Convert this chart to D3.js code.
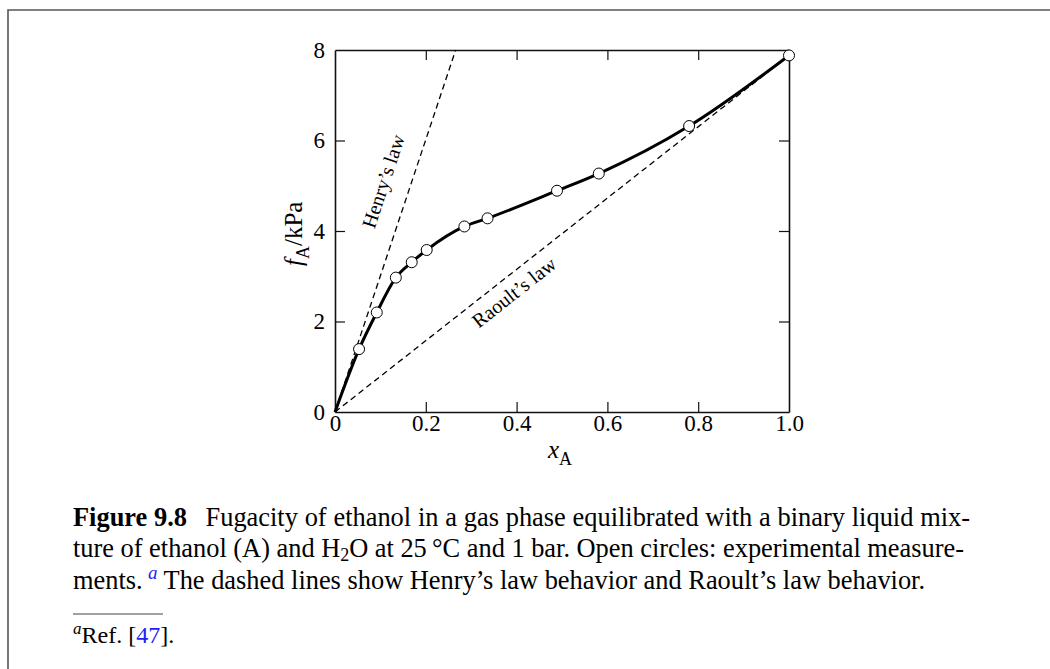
<!DOCTYPE html>
<html>
<head>
<meta charset="utf-8">
<script src="https://cdn.jsdelivr.net/npm/d3@7"></script>
<style>
  html, body { margin: 0; padding: 0; background: #fff; }
  svg { display: block; }
  text { font-family: "Liberation Serif", "Times New Roman", serif; fill: #000; }
</style>
</head>
<body>
<svg id="chart" width="1050" height="669"></svg>
<script>
// ---- data ----
const xA = [0.053, 0.092, 0.134, 0.169, 0.202, 0.285, 0.336, 0.489, 0.581, 0.780, 1.0];
const fA = [1.39, 2.20, 2.97, 3.31, 3.58, 4.10, 4.28, 4.89, 5.27, 6.32, 7.88];
const henryK = 30.1;      // kPa, Henry's law constant (slope)
const raoultP = 7.88;     // kPa, vapor pressure of pure ethanol
const xTicks = [0, 0.2, 0.4, 0.6, 0.8, 1.0];
const xTickLabels = ["0", "0.2", "0.4", "0.6", "0.8", "1.0"];
const yTicks = [0, 2, 4, 6, 8];
const yTickLabels = ["0", "2", "4", "6", "8"];
const henryLabelPos = [0.106, 5.1];
const raoultLabelPos = [0.394, 2.65];

const svg = d3.select("#chart");
const W = 1050, H = 669;

// page frame (top and left rules)
svg.append("path").attr("d", `M8,${H} L8,10 L${W},10`)
  .attr("fill", "none").attr("stroke", "#555").attr("stroke-width", 1.6);

const x = d3.scaleLinear().domain([0, 1]).range([335, 789]);
const y = d3.scaleLinear().domain([0, 8]).range([412, 50]);

const fmtX = d => xTickLabels[xTicks.indexOf(d)];
const fmtY = d => yTickLabels[yTicks.indexOf(d)];

function styleAxis(g) {
  g.selectAll("path.domain").attr("stroke", "#111").attr("stroke-width", 1.6);
  g.selectAll(".tick line").attr("stroke", "#111").attr("stroke-width", 1.2);
  g.selectAll("text").attr("font-family", '"Liberation Serif", "Times New Roman", serif')
    .attr("font-size", 23).attr("fill", "#000");
}

svg.append("g").attr("transform", `translate(0,${y(0)})`)
  .call(d3.axisBottom(x).tickValues(xTicks).tickSize(-10).tickSizeOuter(0).tickPadding(3).tickFormat(fmtX))
  .call(styleAxis);
svg.append("g").attr("transform", `translate(0,${y(8)})`)
  .call(d3.axisTop(x).tickValues(xTicks.slice(1, -1)).tickSize(-10).tickSizeOuter(0).tickFormat(""))
  .call(styleAxis);
svg.append("g").attr("transform", `translate(${x(0)},0)`)
  .call(d3.axisLeft(y).tickValues(yTicks).tickSize(-10).tickSizeOuter(0).tickPadding(10).tickFormat(fmtY))
  .call(styleAxis);
svg.append("g").attr("transform", `translate(${x(1)},0)`)
  .call(d3.axisRight(y).tickValues(yTicks.slice(1, -1)).tickSize(-10).tickSizeOuter(0).tickFormat(""))
  .call(styleAxis);
// hide tick marks at the corners
svg.selectAll(".tick line").filter(function(d){ return d === 0 || d === 1 || d === 8; }).remove();

// dashed lines
const line = d3.line().x(d => x(d[0])).y(d => y(d[1]));
const henryPts = [[0, 0], [8 / henryK, 8]];
const raoultPts = [[0, 0], [1, raoultP]];
svg.append("path").attr("d", line(henryPts)).attr("fill", "none")
  .attr("stroke", "#000").attr("stroke-width", 1.3).attr("stroke-dasharray", "6,4");
svg.append("path").attr("d", line(raoultPts)).attr("fill", "none")
  .attr("stroke", "#000").attr("stroke-width", 1.3).attr("stroke-dasharray", "6,4");

// smooth curve through the data
const curvePts = [[0, 0]].concat(xA.map((v, i) => [v, fA[i]]));
svg.append("path").attr("d", d3.line().x(d => x(d[0])).y(d => y(d[1])).curve(d3.curveMonotoneX)(curvePts))
  .attr("fill", "none").attr("stroke", "#000").attr("stroke-width", 3);

// points
svg.append("g").selectAll("circle").data(xA).join("circle")
  .attr("cx", d => x(d)).attr("cy", (d, i) => y(fA[i])).attr("r", 5.5)
  .attr("fill", "#fff").attr("stroke", "#000").attr("stroke-width", 1);

// line labels
const henryAng = Math.atan2(y(8) - y(0), x(8 / henryK) - x(0)) * 180 / Math.PI;
const raoultAng = Math.atan2(y(raoultP) - y(0), x(1) - x(0)) * 180 / Math.PI;
svg.append("text")
  .attr("transform", `translate(${x(henryLabelPos[0])},${y(henryLabelPos[1])}) rotate(${henryAng})`)
  .attr("text-anchor", "middle").attr("dy", "0.35em").attr("font-size", 20).text("Henry’s law");
svg.append("text")
  .attr("transform", `translate(${x(raoultLabelPos[0])},${y(raoultLabelPos[1])}) rotate(${raoultAng})`)
  .attr("text-anchor", "middle").attr("dy", "0.35em").attr("font-size", 20).text("Raoult’s law");

// axis titles
const xt = svg.append("text").attr("x", 548).attr("y", 458).attr("font-size", 25);
xt.append("tspan").attr("font-style", "italic").text("x");
xt.append("tspan").attr("dy", 7).attr("font-size", 18).text("A");

const yt = svg.append("text").attr("transform", "translate(302,266) rotate(-90)").attr("font-size", 25);
yt.append("tspan").attr("font-style", "italic").text("f");
yt.append("tspan").attr("dy", 7).attr("font-size", 18).text("A");
yt.append("tspan").attr("dy", -7).text("/kPa");

// caption
const capX = 73, capR = 970, capFS = 26.4;
const blue = "#2323ee";
function justify(t, target) {
  t.attr("word-spacing", null);
  const nat = t.node().getComputedTextLength();
  const txt = t.text();
  const spaces = (txt.match(/ /g) || []).length;
  if (spaces > 0) t.attr("word-spacing", (target - nat) / spaces);
}
const l1 = svg.append("text").attr("x", capX).attr("y", 526).attr("font-size", capFS);
l1.append("tspan").attr("font-weight", "bold").text("Figure 9.8");
l1.append("tspan").text("\u2002\u2009Fugacity of ethanol in a gas phase equilibrated with a binary liquid mix-");
justify(l1, capR - capX);

const l2 = svg.append("text").attr("x", capX).attr("y", 557).attr("font-size", capFS);
l2.append("tspan").text("ture of ethanol (A) and H");
l2.append("tspan").attr("dy", 4).attr("font-size", 18).text("2");
l2.append("tspan").attr("dy", -4).text("O at 25\u2009°C and 1 bar. Open circles: experimental measure-");
justify(l2, capR - 6 - capX);

const l3 = svg.append("text").attr("x", capX).attr("y", 589).attr("font-size", capFS);
l3.append("tspan").text("ments.\u2009");
l3.append("tspan").attr("dy", -10).attr("font-size", 19).attr("font-style", "italic").style("fill", blue).text("a");
l3.append("tspan").attr("dy", 10).text(" The dashed lines show Henry’s law behavior and Raoult’s law behavior.");

// footnote
svg.append("line").attr("x1", 73).attr("x2", 163).attr("y1", 614).attr("y2", 614)
  .attr("stroke", "#444").attr("stroke-width", 1.2);
const fn = svg.append("text").attr("x", 73).attr("y", 643).attr("font-size", 24);
fn.append("tspan").attr("dy", -9).attr("font-size", 17).attr("font-style", "italic").text("a");
fn.append("tspan").attr("dy", 9).text("Ref. [");
fn.append("tspan").style("fill", blue).text("47");
fn.append("tspan").text("].");
</script>
</body>
</html>
